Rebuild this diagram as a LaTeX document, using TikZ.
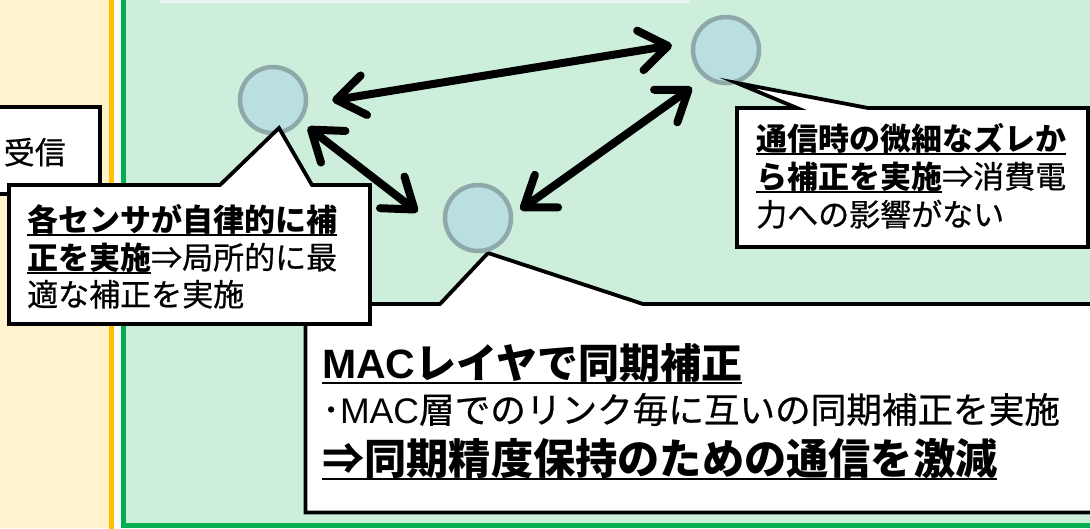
\documentclass[tikz,border=0pt]{standalone}
\usepackage{fontspec}
\setmainfont{Noto Sans CJK JP}[UprightFeatures={FakeBold=0.6}]
\newfontfamily\lat{Liberation Sans}
\usetikzlibrary{arrows.meta}
\definecolor{orbg}{HTML}{FFF2CC}
\definecolor{orline}{HTML}{FFC000}
\definecolor{grline}{HTML}{00B050}
\definecolor{grbg}{HTML}{CDEEDB}
\definecolor{topbox}{HTML}{EAF7F0}
\definecolor{sfill}{HTML}{B9DFE0}
\definecolor{sdraw}{HTML}{8FA9AA}
\newcommand\ulx[1]{\setbox0\hbox{#1}\rlap{\rule[-0.15em]{\wd0}{0.06em}}\box0}
\tikzset{
  callout/.style={fill=white, draw=black, line width=3.8pt, line join=miter},
  sensor/.style={circle, fill=sfill, draw=sdraw, line width=4.5pt, minimum size=66pt, inner sep=0pt},
  link/.style={line width=8pt, {Straight Barb[length=28pt,width=40pt,round]}-{Straight Barb[length=28pt,width=40pt,round]}},
  txt/.style={anchor=base west, inner sep=0pt, font=\fontsize{31}{38}\selectfont},
}
\begin{document}
\begin{tikzpicture}[x=1pt,y=-1pt]
\useasboundingbox (0,0) rectangle (1090,528);
\clip (0,0) rectangle (1090,528);
% backgrounds
\fill[orbg] (0,0) rectangle (111.5,528);
\fill[white] (111.5,0) rectangle (123,528);
\fill[grbg] (123,0) rectangle (1090,525.5);
\draw[orline, line width=5pt] (111.5,-5) -- (111.5,535);
\draw[grline, line width=4.6pt] (123.3,-10) -- (123.3,525.7) -- (1100,525.7);
\fill[topbox] (160,-5) rectangle (690,3);
% left partial box
\draw[callout] (-10,107) rectangle (100,194);
\node[anchor=base east, inner sep=0pt, font=\fontsize{31}{38}\selectfont] (recv) at (66,164) {受信};
% MAC callout
\draw[callout] (305.5,304) -- (440,304) -- (488,253) -- (643,304) -- (1100,304) -- (1100,512.5) -- (305.5,512.5) -- cycle;
\node[anchor=base west, inner sep=0pt, font=\fontsize{41}{48}\selectfont] (m1) at (322,378) {\ulx{\bfseries{\lat MAC}レイヤで同期補正}};
\node[anchor=base west, inner sep=0pt, font=\fontsize{35.6}{42}\selectfont] (m2) at (322,423) {･{\lat MAC}層でのリンク毎に互いの同期補正を実施};
\node[anchor=base west, inner sep=0pt, font=\fontsize{42.2}{48}\selectfont] (m3) at (322,474) {\ulx{\bfseries ⇒同期精度保持のための通信を激減}};
% sensors
\node[sensor] (A) at (273,100) {};
\node[sensor] (B) at (726,50) {};
\node[sensor] (C) at (478,218) {};
% links
\draw[link, shorten <=24.6pt, shorten >=20pt] (A.-7) -- (B.167);
\draw[link, shorten <=9pt, shorten >=37pt] (A.-38) -- (C.208);
\draw[link, shorten <=9pt, shorten >=16pt] (C.5) -- (B.233);
% left callout
\draw[callout] (9,185) -- (220,185) -- (279,128) -- (312,185) -- (370,185) -- (370,324) -- (9,324) -- cycle;
\node[txt] (l1) at (27,231) {\ulx{\bfseries 各センサが自律的に補}};
\node[txt] (l2) at (27,269) {\ulx{\bfseries 正を実施}⇒局所的に最};
\node[txt] (l3) at (27,306) {適な補正を実施};
% right callout
\draw[callout] (737,108) -- (797,108) -- (737,83) -- (868,108) -- (1088,108) -- (1088,247) -- (737,247) -- cycle;
\node[txt] (r1) at (756,150) {\ulx{\bfseries 通信時の微細なズレか}};
\node[txt] (r2) at (756,188) {\ulx{\bfseries ら補正を実施}⇒消費電};
\node[txt] (r3) at (756,226) {力への影響がない};
\end{tikzpicture}
\end{document}
